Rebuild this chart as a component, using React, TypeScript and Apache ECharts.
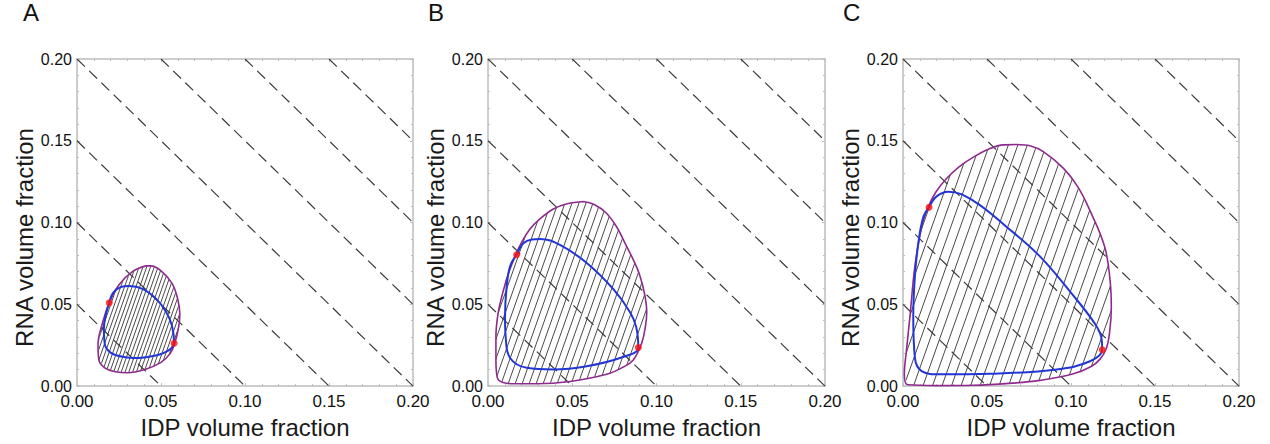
import React, { useEffect, useRef } from 'react';
import * as echarts from 'echarts';

// ---------- data ----------
const panelLabels = ['A', 'B', 'C'];
const axisTicks = [0, 0.05, 0.1, 0.15, 0.2];
const tieLevels = [0.05, 0.1, 0.15, 0.2, 0.25, 0.3, 0.35];

const binodalA: number[][] = [
  [0.0410, 0.0735], [0.0330, 0.0700], [0.0250, 0.0620], [0.0192, 0.0509], [0.0150, 0.0380],
  [0.0125, 0.0250], [0.0130, 0.0160], [0.0165, 0.0112], [0.0230, 0.0088], [0.0300, 0.0082],
  [0.0400, 0.0100], [0.0500, 0.0145], [0.0555, 0.0200], [0.0582, 0.0262], [0.0605, 0.0360],
  [0.0612, 0.0440], [0.0600, 0.0530], [0.0565, 0.0630], [0.0500, 0.0705], [0.0440, 0.0735],
  [0.0410, 0.0735],
];
const spinodalA: number[][] = [
  [0.0192, 0.0509], [0.0215, 0.0570], [0.0260, 0.0605], [0.0310, 0.0612], [0.0390, 0.0595],
  [0.0470, 0.0535], [0.0530, 0.0455], [0.0565, 0.0370], [0.0578, 0.0262], [0.0540, 0.0215],
  [0.0460, 0.0185], [0.0370, 0.0172], [0.0280, 0.0178], [0.0200, 0.0205], [0.0165, 0.0260],
  [0.0160, 0.0350], [0.0172, 0.0440], [0.0192, 0.0509],
];
const criticalA: number[][] = [[0.0192, 0.0509], [0.0578, 0.0262]];

const binodalB: number[][] = [
  [0.0566, 0.1129], [0.0470, 0.1115], [0.0388, 0.1083], [0.0300, 0.1015], [0.0249, 0.0960],
  [0.0200, 0.0880], [0.0165, 0.0803], [0.0125, 0.0700], [0.0090, 0.0580], [0.0061, 0.0452],
  [0.0047, 0.0300], [0.0047, 0.0160], [0.0055, 0.0052], [0.0090, 0.0022], [0.0160, 0.0014],
  [0.0289, 0.0014], [0.0487, 0.0028], [0.0704, 0.0072], [0.0800, 0.0115], [0.0862, 0.0160],
  [0.0912, 0.0262], [0.0935, 0.0370], [0.0942, 0.0450], [0.0930, 0.0560], [0.0900, 0.0680],
  [0.0862, 0.0773], [0.0810, 0.0880], [0.0764, 0.0973], [0.0700, 0.1060], [0.0630, 0.1110],
  [0.0566, 0.1129],
];
const spinodalB: number[][] = [
  [0.0170, 0.0803], [0.0210, 0.0873], [0.0260, 0.0897], [0.0310, 0.0900], [0.0427, 0.0863],
  [0.0586, 0.0753], [0.0744, 0.0593], [0.0843, 0.0452], [0.0880, 0.0360], [0.0892, 0.0236],
  [0.0783, 0.0172], [0.0586, 0.0122], [0.0388, 0.0102], [0.0230, 0.0112], [0.0131, 0.0172],
  [0.0105, 0.0300], [0.0101, 0.0420], [0.0110, 0.0600], [0.0131, 0.0733], [0.0170, 0.0803],
];
const criticalB: number[][] = [[0.0170, 0.0803], [0.0892, 0.0236]];

const binodalC: number[][] = [
  [0.0677, 0.1477], [0.0600, 0.1475], [0.0518, 0.1453], [0.0419, 0.1400], [0.0330, 0.1338],
  [0.0255, 0.1265], [0.0195, 0.1185], [0.0150, 0.1095], [0.0111, 0.0973], [0.0071, 0.0733],
  [0.0042, 0.0432], [0.0022, 0.0232], [0.0008, 0.0070], [0.0030, 0.0008], [0.0200, 0.0003],
  [0.0419, 0.0005], [0.0650, 0.0018], [0.0815, 0.0035], [0.1014, 0.0075], [0.1120, 0.0120],
  [0.1173, 0.0165], [0.1210, 0.0230], [0.1230, 0.0330], [0.1240, 0.0480], [0.1232, 0.0653],
  [0.1200, 0.0853], [0.1113, 0.1073], [0.1040, 0.1220], [0.0954, 0.1333], [0.0835, 0.1434],
  [0.0760, 0.1468], [0.0677, 0.1477],
];
const spinodalC: number[][] = [
  [0.0155, 0.1093], [0.0200, 0.1160], [0.0270, 0.1189], [0.0419, 0.1133], [0.0617, 0.0973],
  [0.0815, 0.0793], [0.1014, 0.0553], [0.1140, 0.0385], [0.1180, 0.0300], [0.1186, 0.0222],
  [0.1113, 0.0152], [0.0915, 0.0102], [0.0518, 0.0076], [0.0220, 0.0072], [0.0111, 0.0092],
  [0.0071, 0.0172], [0.0061, 0.0432], [0.0071, 0.0673], [0.0091, 0.0873], [0.0121, 0.1033],
  [0.0155, 0.1093],
];
const criticalC: number[][] = [[0.0155, 0.1093], [0.1186, 0.0222]];

const binodals = [binodalA, binodalB, binodalC];
const spinodals = [spinodalA, spinodalB, spinodalC];
const criticals = [criticalA, criticalB, criticalC];

// ---------- layout / style ----------
const gridLefts = [77, 488, 903];
const gridWidths = [336, 337, 336];
const gridTop = 59;
const gridHeight = 333;
const hatchSpacing = [3.8, 7, 9.5];
const hatchSlope = 2.8; // pixel rise per pixel run
const letterX = [23, 428, 843];

const FONT = 'Arial, "Liberation Sans", Helvetica, sans-serif';
const frameColor = '#bdbdbd';

const axisMin = axisTicks[0];
const axisMax = axisTicks[axisTicks.length - 1];
const axisStep = axisTicks[1] - axisTicks[0];

function levelSegment(c: number): number[][] {
  const lo = Math.max(axisMin, c - axisMax);
  const hi = Math.min(c, axisMax);
  return [[lo, hi], [hi, lo]];
}

function buildOption() {
  const xAxes: any[] = [];
  const yAxes: any[] = [];
  const grids: any[] = [];
  const series: any[] = [];
  const tick = {
    show: true, inside: true, length: 3,
    lineStyle: { color: frameColor, width: 1 },
  };
  const minor = {
    show: true, splitNumber: 5, length: 2,
    lineStyle: { color: frameColor, width: 1 },
  };
  const axLine = { show: true, onZero: false, lineStyle: { color: frameColor, width: 1.5 } };

  for (let i = 0; i < 3; i++) {
    grids.push({ left: gridLefts[i], top: gridTop, width: gridWidths[i], height: gridHeight, containLabel: false });
  }
  for (let i = 0; i < 3; i++) {
    xAxes.push({
      type: 'value', gridIndex: i, min: axisMin, max: axisMax, interval: axisStep,
      position: 'bottom',
      axisLine: axLine, axisTick: tick, minorTick: minor, splitLine: { show: false },
      axisLabel: {
        color: '#111', fontSize: 17, fontFamily: FONT, margin: 7,
        formatter: (v: number) => v.toFixed(2),
      },
      name: 'IDP volume fraction', nameLocation: 'middle', nameGap: 21,
      nameTextStyle: { color: '#1a1a1a', fontSize: 24, fontFamily: FONT, verticalAlign: 'top' },
    });
    yAxes.push({
      type: 'value', gridIndex: i, min: axisMin, max: axisMax, interval: axisStep,
      position: 'left',
      axisLine: axLine, axisTick: tick, minorTick: minor, splitLine: { show: false },
      axisLabel: {
        color: '#111', fontSize: 16, fontFamily: FONT, margin: 5,
        formatter: (v: number) => v.toFixed(2),
      },
      name: 'RNA volume fraction', nameLocation: 'middle', nameGap: 41,
      nameTextStyle: { color: '#1a1a1a', fontSize: 24, fontFamily: FONT, padding: [0, 30, 0, 0] },
    });
  }
  for (let i = 0; i < 3; i++) {
    xAxes.push({
      type: 'value', gridIndex: i, min: axisMin, max: axisMax, interval: axisStep,
      position: 'top',
      axisLine: axLine, axisTick: tick, minorTick: minor, splitLine: { show: false },
      axisLabel: { show: false },
    });
    yAxes.push({
      type: 'value', gridIndex: i, min: axisMin, max: axisMax, interval: axisStep,
      position: 'right',
      axisLine: axLine, axisTick: tick, minorTick: minor, splitLine: { show: false },
      axisLabel: { show: false },
    });
  }

  for (let i = 0; i < 3; i++) {
    // dashed lines of constant total fraction
    tieLevels.forEach((c, k) => {
      series.push({
        type: 'line', name: `level-${i}-${k}`, xAxisIndex: i, yAxisIndex: i,
        data: levelSegment(c), symbol: 'none', silent: true, z: 1,
        lineStyle: { color: '#3c3c3c', width: 1.2, type: [11, 6] },
      });
    });
    // hatching inside the binodal
    const boundary = binodals[i];
    const spacing = hatchSpacing[i];
    series.push({
      type: 'custom', name: `hatch-${i}`, xAxisIndex: i, yAxisIndex: i,
      coordinateSystem: 'cartesian2d', silent: true, z: 2,
      data: boundary,
      renderItem: (params: any, api: any) => {
        if (params.dataIndex !== 0) return null;
        const pts = boundary.map((p) => api.coord(p));
        let minX = Infinity, maxX = -Infinity, minY = Infinity, maxY = -Infinity;
        pts.forEach(([x, y]: number[]) => {
          minX = Math.min(minX, x); maxX = Math.max(maxX, x);
          minY = Math.min(minY, y); maxY = Math.max(maxY, y);
        });
        const h = maxY - minY;
        const run = h / hatchSlope;
        const children: any[] = [];
        for (let x0 = minX - run; x0 <= maxX + 1; x0 += spacing) {
          children.push({
            type: 'line',
            shape: { x1: x0, y1: maxY + 1, x2: x0 + run, y2: minY - 1 },
            style: { stroke: '#363636', lineWidth: 0.9 },
          });
        }
        return {
          type: 'group',
          children,
          clipPath: { type: 'polygon', shape: { points: pts } },
        };
      },
    });
    series.push({
      type: 'line', name: `binodal-${i}`, xAxisIndex: i, yAxisIndex: i,
      data: binodals[i], symbol: 'none', smooth: 0.4, silent: true, z: 3,
      lineStyle: { color: '#8e2a8e', width: 1.6 },
    });
    series.push({
      type: 'line', name: `spinodal-${i}`, xAxisIndex: i, yAxisIndex: i,
      data: spinodals[i], symbol: 'none', smooth: 0.4, silent: true, z: 4,
      lineStyle: { color: '#2236d6', width: 2 },
    });
    series.push({
      type: 'scatter', name: `critical-${i}`, xAxisIndex: i, yAxisIndex: i,
      data: criticals[i], symbol: 'circle', symbolSize: 7, silent: true, z: 5,
      itemStyle: { color: '#ff1010' },
    });
  }

  const graphic = panelLabels.map((t, i) => ({
    type: 'text', left: letterX[i], top: 0,
    style: { text: t, fontSize: 24, fontFamily: FONT, fill: '#111' },
  }));

  return {
    animation: false,
    backgroundColor: '#ffffff',
    grid: grids,
    xAxis: xAxes,
    yAxis: yAxes,
    series,
    graphic,
  };
}

export default function App() {
  const ref = useRef<HTMLDivElement>(null);
  useEffect(() => {
    if (!ref.current) return;
    const chart = echarts.init(ref.current, null, { renderer: 'svg' });
    chart.setOption(buildOption() as any);
    return () => chart.dispose();
  }, []);
  return (
    <div
      ref={ref}
      style={{ position: 'fixed', left: 0, top: 0, width: 1270, height: 444, background: '#fff' }}
    />
  );
}
